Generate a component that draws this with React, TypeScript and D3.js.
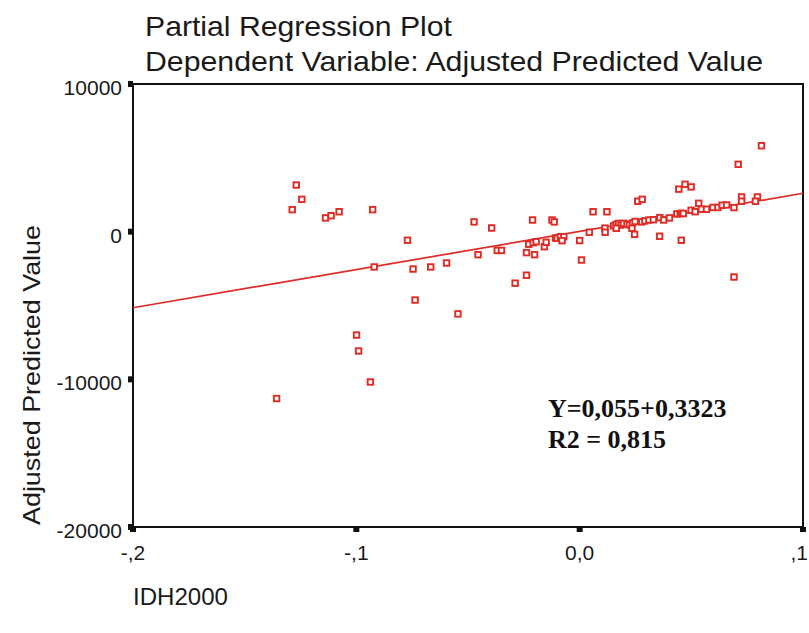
import React from 'react';
import * as d3 from 'd3';

// values
const pointX = [
  -0.1357, -0.1287, -0.1269, -0.1244, -0.1138, -0.1113, -0.1077, -0.0999, -0.099, -0.0937,
  -0.0927, -0.092, -0.0771, -0.0746, -0.0737, -0.0667, -0.0596, -0.0545, -0.0473, -0.0455,
  -0.0394, -0.0369, -0.035, -0.0289, -0.0238, -0.0238, -0.0228, -0.0211, -0.0208, -0.0195,
  -0.0202, -0.0158, -0.015, -0.0124, -0.0114, -0.0108, -0.0101, -0.0086, -0.0071, -0.0079,
  0.0, 0.0008, 0.0043, 0.006, 0.0113, 0.0114, 0.0122,
  0.0152, 0.0163, 0.0174, 0.0185, 0.0196, 0.0212, 0.0223, 0.0237, 0.0248, 0.0164,
  0.0234, 0.0246, 0.0278, 0.0292, 0.031, 0.033, 0.0359, 0.0376, 0.0402, 0.0435,
  0.045, 0.0457, 0.0464, 0.0499, 0.0517, 0.0545, 0.0568, 0.0597, 0.0619, 0.0638, 0.0658,
  0.026, 0.028, 0.0358, 0.0444, 0.0472, 0.0499, 0.0533, 0.0455, 0.0691, 0.0691,
  0.071, 0.0725, 0.0725, 0.0796, 0.0787, 0.0814,
];
const pointY = [
  -11300, 1490, 3160, 2190, 930, 1080, 1350, -7000, -8080, -10180,
  1490, -2390, -580, -2530, -4630, -2390, -2120, -5570, 660, -1560,
  250, -1270, -1270, -3490, -2950, -1420, -850, 790, -750, -680,
  -1560, -1020, -720, 790, 660, -430, -450, -340, -340, -610,
  -600, -1920, -40, 1350, 240, -40, 1350,
  390, 490, 560, 450, 560, 520, 450, 590, 690, 230,
  230, -180, 660, 730, 790, 810, 950, 790, 930, 1200,
  1230, 1230, 1230, 1450, 1350, 1520, 1520, 1640, 1640, 1790, 1810,
  2060, 2190, -310, 2880, 3210, 3030, 1920, -580, 1630, -3070,
  4560, 2350, 2060, 2350, 2060, 5820,
];

// fitted line, at the two ends of the x range
const fitX = [-0.2, 0.1];
const fitY = [-5150, 2600];

const xTicks = [-0.2, -0.1, 0, 0.1];
const xTickLabels = ['-,2', '-,1', '0,0', ',1'];
const yTicks = [10000, 0, -10000, -20000];
const yTickLabels = ['10000', '0', '-10000', '-20000'];

const titleLines = ['Partial Regression Plot', 'Dependent Variable: Adjusted Predicted Value'];
const equationLines = ['Y=0,055+0,3323', 'R2 = 0,815'];

const RED = '#e02a24';
const SANS = "'Liberation Sans', Arial, sans-serif";

const App = () => {
  const width = 809, height = 633;
  const left = 133, right = 803, top = 84, bottom = 527;

  const x = d3.scaleLinear().domain([-0.2, 0.1]).range([left, right]);
  const y = d3.scaleLinear().domain([-20000, 10000]).range([bottom, top]);

  const line = d3.line<number>().x((d) => x(d)).y((_, i) => y(fitY[i]));

  return (
    <div style={{ position: 'absolute', left: 0, top: 0 }}>
      <svg width={width} height={height} style={{ display: 'block', background: '#fff' }}>
        {/* title */}
        <text x={145} y={36} fontFamily={SANS} fontSize={28} fill="#1a1a1a"
          textLength={307} lengthAdjust="spacingAndGlyphs">{titleLines[0]}</text>
        <text x={145} y={71} fontFamily={SANS} fontSize={28} fill="#1a1a1a"
          textLength={618} lengthAdjust="spacingAndGlyphs">{titleLines[1]}</text>

        {/* frame */}
        <rect x={left} y={top} width={right - left} height={bottom - top}
          fill="none" stroke="#111" strokeWidth={2} />

        {/* y ticks */}
        {yTicks.map((t, i) => (
          <g key={'y' + i}>
            <rect x={left - 5} y={y(t) - 3} width={5} height={6} fill="#111" />
            <text x={122} y={y(t) + 11} textAnchor="end" fontFamily={SANS} fontSize={21} fill="#1a1a1a">
              {yTickLabels[i]}
            </text>
          </g>
        ))}

        {/* x ticks; the last label is kept inside the page edge */}
        {xTicks.map((t, i) => {
          const last = i === xTicks.length - 1;
          return (
            <g key={'x' + i}>
              <rect x={x(t) - 3} y={bottom} width={6} height={5} fill="#111" />
              <text x={last ? width - 1 : x(t)} y={560} textAnchor={last ? 'end' : 'middle'}
                fontFamily={SANS} fontSize={21} fill="#1a1a1a">
                {xTickLabels[i]}
              </text>
            </g>
          );
        })}

        {/* axis titles */}
        <text x={133} y={605} fontFamily={SANS} fontSize={24} fill="#1a1a1a"
          textLength={95} lengthAdjust="spacingAndGlyphs">IDH2000</text>
        <text transform="translate(40,375) rotate(-90)" textAnchor="middle" fontFamily={SANS}
          fontSize={24} fill="#1a1a1a" textLength={300} lengthAdjust="spacingAndGlyphs">
          Adjusted Predicted Value
        </text>

        {/* fit line */}
        <path d={line(fitX) || ''} fill="none" stroke={RED} strokeWidth={1.7} />

        {/* points */}
        {pointX.map((px, i) => (
          <rect key={'p' + i} x={x(px) - 2.75} y={y(pointY[i]) - 2.75} width={5.5} height={5.5}
            fill="#fff" stroke={RED} strokeWidth={1.9} />
        ))}

        {/* equation */}
        {equationLines.map((s, i) => (
          <text key={'e' + i} x={548} y={417 + i * 31} fontFamily="'Liberation Serif', 'Times New Roman', serif"
            fontWeight="bold" fontSize={26} fill="#111">{s}</text>
        ))}
      </svg>
    </div>
  );
};

export default App;
